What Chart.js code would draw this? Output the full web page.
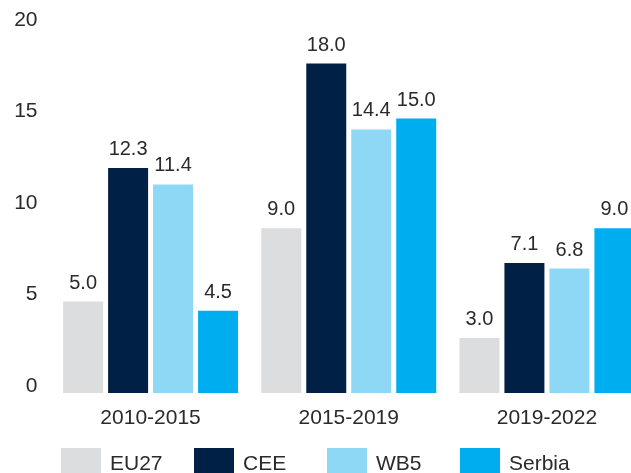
<!DOCTYPE html>
<html>

<head>
    <title>growth_bars</title>
    <script src="https://cdn.jsdelivr.net/npm/chart.js"></script>
    <style>
        html, body {
            margin: 0;
            padding: 0;
            overflow: hidden;
            background: #ffffff;
        }
        #chartCanvas {
            display: block;
        }
    </style>
</head>

<body>
    <canvas id="chartCanvas" width="646" height="473"></canvas>
    <script>
        // data
        const periods = ['2010-2015', '2015-2019', '2019-2022'];
        const seriesNames = ['EU27', 'CEE', 'WB5', 'Serbia'];
        const eu27 = [5.0, 9.0, 3.0];
        const cee = [12.3, 18.0, 7.1];
        const wb5 = [11.4, 14.4, 6.8];
        const serbia = [4.5, 15.0, 9.0];
        const yTicks = [0, 5, 10, 15, 20];

        const colors = ['#dcdddf', '#002145', '#8ed8f6', '#00adee'];
        const textColor = '#2a2a2a';
        const fontFamily = '"Liberation Sans", Arial, sans-serif';

        // value labels above each bar
        const valueLabels = {
            id: 'valueLabels',
            afterDatasetsDraw(chart) {
                const ctx = chart.ctx;
                ctx.save();
                ctx.font = '20px ' + fontFamily;
                ctx.fillStyle = textColor;
                ctx.textAlign = 'center';
                ctx.textBaseline = 'alphabetic';
                chart.data.datasets.forEach((ds, i) => {
                    chart.getDatasetMeta(i).data.forEach((bar, j) => {
                        ctx.fillText(ds.data[j].toFixed(1), bar.x, bar.y - 13);
                    });
                });
                ctx.restore();
            }
        };

        // legend row at the bottom, square-ish swatches
        const bottomLegend = {
            id: 'bottomLegend',
            afterDraw(chart) {
                const ctx = chart.ctx;
                ctx.save();
                ctx.font = '21px ' + fontFamily;
                ctx.textBaseline = 'middle';
                ctx.textAlign = 'left';
                chart.data.datasets.forEach((ds, i) => {
                    const x = 61 + i * 133;
                    ctx.fillStyle = ds.backgroundColor;
                    ctx.fillRect(x, 448, 40, 32);
                    ctx.fillStyle = textColor;
                    ctx.fillText(ds.label, x + 49, 464);
                });
                ctx.restore();
            }
        };

        const seriesData = [eu27, cee, wb5, serbia];

        new Chart(document.getElementById('chartCanvas'), {
            type: 'bar',
            data: {
                labels: periods,
                datasets: seriesNames.map((name, i) => ({
                    label: name,
                    data: seriesData[i],
                    backgroundColor: colors[i],
                    categoryPercentage: 0.908,
                    barPercentage: 0.889
                }))
            },
            options: {
                responsive: false,
                animation: false,
                layout: {
                    padding: { top: 27, right: 0, bottom: 0, left: 0 }
                },
                plugins: {
                    legend: { display: false },
                    tooltip: { enabled: false }
                },
                scales: {
                    x: {
                        grid: { display: false, drawTicks: false },
                        border: { display: false },
                        ticks: {
                            color: textColor,
                            font: { size: 21, family: fontFamily },
                            padding: 13
                        },
                        afterFit(scale) {
                            scale.height = 80;
                        }
                    },
                    y: {
                        min: yTicks[0],
                        max: yTicks[yTicks.length - 1],
                        grid: { display: false, drawTicks: false },
                        border: { display: false },
                        afterBuildTicks(scale) {
                            scale.ticks = yTicks.map(v => ({ value: v }));
                        },
                        ticks: {
                            color: textColor,
                            font: { size: 21, family: fontFamily },
                            padding: 14,
                            labelOffset: -7
                        },
                        afterFit(scale) {
                            scale.width = 51.5;
                        }
                    }
                }
            },
            plugins: [valueLabels, bottomLegend]
        });
    </script>
</body>

</html>
